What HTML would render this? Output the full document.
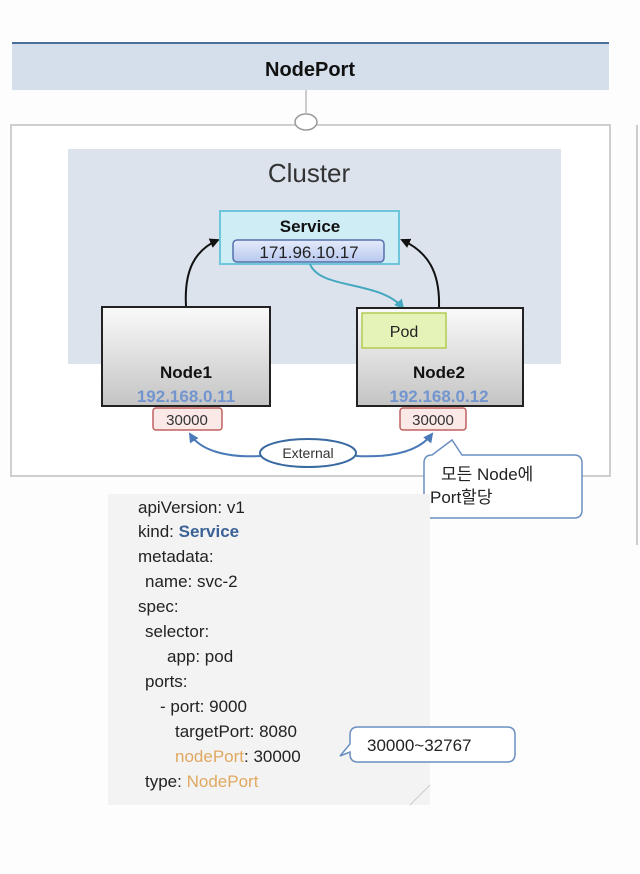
<!DOCTYPE html>
<html><head><meta charset="utf-8"><style>
html,body{margin:0;padding:0;background:#fff;}
svg{display:block;font-family:"Liberation Sans","Noto Sans CJK KR",sans-serif;}
</style></head><body>
<svg width="640" height="874" viewBox="0 0 640 874" xmlns="http://www.w3.org/2000/svg">
<defs>
<linearGradient id="ng" x1="0" y1="0" x2="0" y2="1"><stop offset="0" stop-color="#fafafa"/><stop offset="1" stop-color="#c4c4c4"/></linearGradient>
<linearGradient id="ip" x1="0" y1="0" x2="0" y2="1"><stop offset="0" stop-color="#e4ebfb"/><stop offset="1" stop-color="#b8c8ee"/></linearGradient>
<marker id="ab" markerWidth="10" markerHeight="10" refX="8" refY="5" orient="auto" markerUnits="userSpaceOnUse"><path d="M0,0 L10,5 L0,10 z" fill="#111"/></marker>
<marker id="at" markerWidth="10" markerHeight="10" refX="8" refY="5" orient="auto" markerUnits="userSpaceOnUse"><path d="M0,0 L10,5 L0,10 z" fill="#45a8c0"/></marker>
<marker id="abl" markerWidth="10" markerHeight="10" refX="8" refY="5" orient="auto" markerUnits="userSpaceOnUse"><path d="M0,0 L10,5 L0,10 z" fill="#4a7ab8"/></marker>
</defs>
<rect width="640" height="874" fill="#fdfdfd"/>
<rect x="12" y="42" width="597" height="48" fill="#d5dfec"/>
<line x1="12" y1="43" x2="609" y2="43" stroke="#4a6e9c" stroke-width="2"/>
<text x="310" y="76" font-size="20" font-weight="bold" text-anchor="middle" fill="#111">NodePort</text>
<line x1="306" y1="90" x2="306" y2="113" stroke="#bbb" stroke-width="1.5"/>
<rect x="11" y="125" width="599" height="351" fill="#fff" stroke="#cfcfcf" stroke-width="2"/>
<ellipse cx="306" cy="122" rx="11" ry="8" fill="#fff" stroke="#999" stroke-width="1.5"/>
<line x1="637" y1="125" x2="637" y2="545" stroke="#ccc" stroke-width="2"/>
<rect x="68" y="149" width="493" height="215" fill="#dce3ed"/>
<text x="309" y="182" font-size="26" text-anchor="middle" fill="#333">Cluster</text>
<path d="M186,306 C184,270 195,250 218,240" fill="none" stroke="#111" stroke-width="2" marker-end="url(#ab)"/>
<path d="M439,307 C440,272 428,252 402,240" fill="none" stroke="#111" stroke-width="2" marker-end="url(#ab)"/>
<rect x="220" y="211" width="179" height="53" fill="#cfedf5" stroke="#6ec6da" stroke-width="2"/>
<text x="310" y="232" font-size="17" font-weight="bold" text-anchor="middle" fill="#111">Service</text>
<rect x="233" y="240" width="151" height="22" rx="4" fill="url(#ip)" stroke="#5570ac" stroke-width="1.5"/>
<text x="309" y="258" font-size="17" text-anchor="middle" fill="#222">171.96.10.17</text>
<path d="M310,264 C320,290 380,280 403,308" fill="none" stroke="#45a8c0" stroke-width="2" marker-end="url(#at)"/>
<rect x="102" y="307" width="168" height="99" fill="url(#ng)" stroke="#222" stroke-width="2"/>
<text x="186" y="378" font-size="17" font-weight="bold" text-anchor="middle" fill="#111">Node1</text>
<text x="186" y="402" font-size="17" font-weight="bold" text-anchor="middle" fill="#7395cf">192.168.0.11</text>
<rect x="357" y="308" width="166" height="98" fill="url(#ng)" stroke="#222" stroke-width="2"/>
<rect x="362" y="313" width="84" height="35" fill="#e6f3b8" stroke="#b2cc55" stroke-width="1.5"/>
<text x="404" y="337" font-size="16" text-anchor="middle" fill="#222">Pod</text>
<text x="439" y="378" font-size="17" font-weight="bold" text-anchor="middle" fill="#111">Node2</text>
<text x="439" y="402" font-size="17" font-weight="bold" text-anchor="middle" fill="#7395cf">192.168.0.12</text>
<rect x="153" y="408" width="69" height="22" rx="3" fill="#fbe9e7" stroke="#c06060" stroke-width="1.5"/>
<text x="187" y="425" font-size="15" text-anchor="middle" fill="#333">30000</text>
<rect x="400" y="408" width="66" height="22" rx="3" fill="#fbe9e7" stroke="#c06060" stroke-width="1.5"/>
<text x="433" y="425" font-size="15" text-anchor="middle" fill="#333">30000</text>
<path d="M262,456 C225,458 200,450 190,434" fill="none" stroke="#4a7ab8" stroke-width="2" marker-end="url(#abl)"/>
<path d="M356,456 C395,458 420,450 432,434" fill="none" stroke="#4a7ab8" stroke-width="2" marker-end="url(#abl)"/>
<ellipse cx="308" cy="453" rx="48" ry="14" fill="#fff" stroke="#3a6aa2" stroke-width="2"/>
<text x="308" y="458" font-size="14" text-anchor="middle" fill="#333">External</text>
<path d="M432,455 L452,440 L462,455 L574,455 Q582,455 582,463 L582,510 Q582,518 574,518 L432,518 Q424,518 424,510 L424,463 Q424,455 432,455 Z" fill="#fff" stroke="#6a8fc0" stroke-width="1.5"/>
<text x="441" y="480" font-size="17" fill="#222">모든 Node에</text>
<text x="430" y="503" font-size="17" fill="#222">Port할당</text>
<rect x="108" y="494" width="322" height="311" fill="#f3f3f3"/>
<path d="M410,805 L430,785" stroke="#ccc" fill="none"/>
<g font-size="17" fill="#222">
<text x="138" y="513">apiVersion: v1</text>
<text x="138" y="537">kind: <tspan fill="#3b6296" font-weight="bold">Service</tspan></text>
<text x="138" y="562">metadata:</text>
<text x="145" y="587">name: svc-2</text>
<text x="138" y="612">spec:</text>
<text x="145" y="637">selector:</text>
<text x="167" y="662">app: pod</text>
<text x="145" y="687">ports:</text>
<text x="160" y="712">- port: 9000</text>
<text x="175" y="737">targetPort: 8080</text>
<text x="175" y="762"><tspan fill="#e0a860">nodePort</tspan>: 30000</text>
<text x="145" y="787">type: <tspan fill="#e0a860">NodePort</tspan></text>
</g>
<path d="M358,727 L507,727 Q515,727 515,735 L515,754 Q515,762 507,762 L358,762 Q350,762 350,754 L350,752 L340,756 L350,744 L350,735 Q350,727 358,727 Z" fill="#fff" stroke="#6a8fc0" stroke-width="1.5"/>
<text x="367" y="751" font-size="17" fill="#222">30000~32767</text>
</svg>
</body></html>
